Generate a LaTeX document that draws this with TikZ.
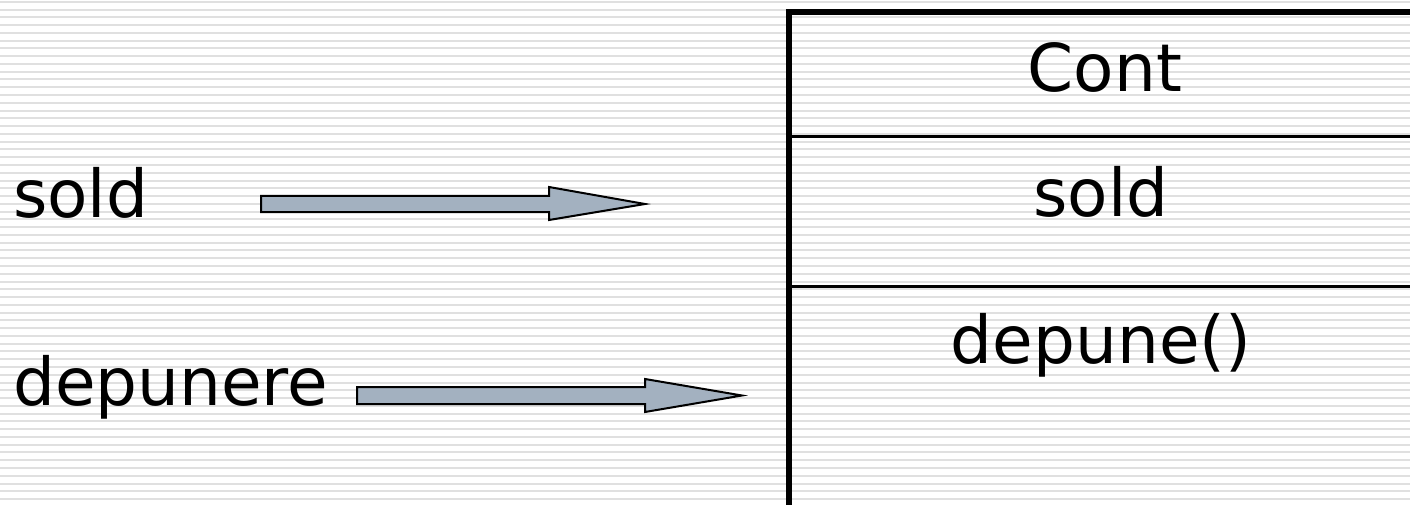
\documentclass[tikz,border=0pt]{standalone}
\usepackage{fontspec}
\setmainfont{DejaVu Sans}
\usetikzlibrary{calc}
\definecolor{arrowfill}{RGB}{163,177,192}
\definecolor{stripe}{RGB}{224,224,224}
\tikzset{
  label/.style={inner sep=0pt, anchor=base, font=\fontsize{66}{79}\selectfont},
  blockarrow/.style={draw=black, line width=2pt, fill=arrowfill, line join=miter},
  frame/.style={draw=black, line width=6pt},
  divider/.style={draw=black, line width=3pt},
}
\begin{document}
\begin{tikzpicture}[x=1pt, y=-1pt]
  % canvas and striped background
  \useasboundingbox (0,0) rectangle (1410,505);
  \fill[white] (0,0) rectangle (1410,505);
  \begin{scope}
    \clip (0,0) rectangle (1410,505);
    \foreach \k in {0,...,65} {
      \draw[stripe, line width=2pt] (0,{1.8+\k*7.77}) -- (1410,{1.8+\k*7.77});
    }
    % class box (runs off the right and bottom edges)
    \draw[frame] (789,520) -- (789,12) -- (1420,12);
    \draw[divider] (792,136.5) -- (1420,136.5);
    \draw[divider] (792,286.5) -- (1420,286.5);
  \end{scope}

  % class compartments
  \node[label] (cont)   at (1105,92)  {Cont};
  \node[label] (attr)   at (1101,216) {sold};
  \node[label] (method) at (1101,363) {depune()};

  % left-hand labels
  \node[label, anchor=base west] (lsold) at (13,218) {sold};
  \node[label, anchor=base west] (ldep)  at (13,405) {depunere};

  % block arrows
  \coordinate (a1s) at (261,204);
  \coordinate (a1t) at (645,204);
  \coordinate (a2s) at (357,395.5);
  \coordinate (a2t) at (742,395.5);
  \draw[blockarrow] ($(a1s)+(0,-8)$) -- ($(a1t)+(-96,-8)$) -- ($(a1t)+(-96,-17)$)
    -- (a1t) -- ($(a1t)+(-96,16)$) -- ($(a1t)+(-96,8)$) -- ($(a1s)+(0,8)$) -- cycle;
  \draw[blockarrow] ($(a2s)+(0,-8.5)$) -- ($(a2t)+(-97,-8.5)$) -- ($(a2t)+(-97,-16.5)$)
    -- (a2t) -- ($(a2t)+(-97,16.5)$) -- ($(a2t)+(-97,8.5)$) -- ($(a2s)+(0,8.5)$) -- cycle;
\end{tikzpicture}
\end{document}
